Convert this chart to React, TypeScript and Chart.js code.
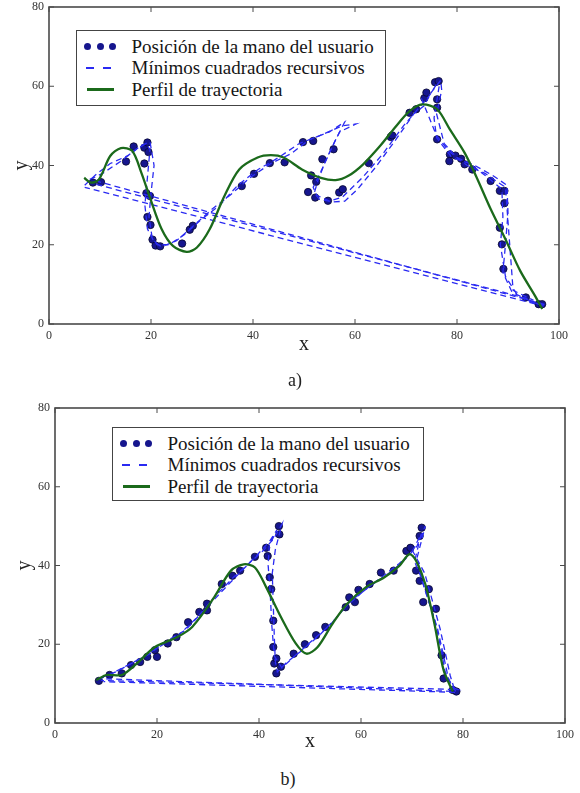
import React, { useEffect, useRef } from "react";
import { Chart, registerables } from "chart.js";
Chart.register(...registerables);

// ---------- shared labels ----------
const xTickStep = 20;
const xMin = 0;
const xMax = 100;
const yMin = 0;
const yMax = 80;
const legendLabels = [
  "Posición de la mano del usuario",
  "Mínimos cuadrados recursivos",
  "Perfil de trayectoria",
];
const panelLabels = ["a)", "b)"];
const axisTitles = ["x", "y"];

// ---------- panel a ----------
const aHandX = [8.6, 10.2, 15.1, 16.6, 18.7, 19.3, 19.5, 18.7, 19.1, 19.8, 19.3, 19.9, 20.3, 20.9, 21.8, 26.1, 27.6, 28.2, 37.8, 40.2, 43.3, 46.2, 49.8, 51.8, 55.8, 53.6, 52.4, 51.4, 50.8, 52.2, 54.7, 56.9, 57.6, 62.7, 67.0, 67.3, 70.7, 72.0, 73.6, 74.0, 75.7, 76.4, 76.1, 76.1, 76.1, 78.6, 78.5, 79.7, 80.8, 81.5, 83.0, 86.6, 88.4, 89.3, 89.3, 88.4, 88.8, 89.1, 93.5, 96.0, 96.7];
const aHandY = [35.7, 35.8, 41.0, 44.8, 44.5, 45.8, 43.4, 40.5, 33.0, 32.3, 27.0, 25.0, 21.3, 19.8, 19.6, 20.3, 23.8, 24.8, 34.8, 37.9, 40.6, 40.8, 45.9, 46.2, 44.1, 41.6, 35.9, 37.5, 33.3, 31.9, 31.1, 33.2, 34.0, 40.6, 47.2, 47.6, 53.3, 54.2, 57.0, 58.4, 61.0, 61.3, 56.7, 54.6, 46.6, 42.8, 41.1, 42.5, 41.7, 40.3, 39.0, 36.1, 33.6, 33.6, 30.5, 24.3, 20.1, 13.9, 6.7, 5.0, 5.0];

const aRls1X = [7.0, 9.0, 12.0, 15.5, 18.0, 19.8, 20.6, 20.0, 19.6, 20.2, 21.2, 23.5, 26.5, 30.0, 33.5, 37.0, 41.0, 45.0, 49.0, 53.0, 57.5, 60.2, 57.0, 54.5, 52.8, 52.0, 53.0, 55.5, 58.0, 60.5, 64.0, 68.0, 71.5, 73.5, 75.0, 76.8, 77.0, 76.0, 77.5, 80.0, 83.5, 87.0, 89.8, 90.0, 89.5, 89.0, 90.8, 94.0, 97.0, 7.0];
const aRls1Y = [35.0, 37.5, 40.5, 42.5, 45.0, 46.0, 40.0, 33.0, 27.0, 22.0, 20.0, 20.0, 22.5, 26.5, 30.0, 35.0, 39.0, 42.0, 45.5, 47.5, 50.0, 50.5, 48.5, 42.0, 36.5, 33.0, 31.5, 30.8, 31.0, 34.0, 39.5, 46.5, 53.0, 55.0, 58.5, 61.5, 59.0, 53.0, 45.5, 42.0, 40.0, 37.5, 35.0, 28.0, 20.0, 13.0, 8.0, 6.0, 4.5, 34.5];
const aRls2X = [8.0, 10.5, 14.0, 17.0, 19.0, 19.8, 19.3, 18.8, 19.3, 20.5, 22.0, 25.0, 28.5, 32.0, 35.5, 39.5, 43.5, 47.5, 51.0, 55.0, 58.0, 56.0, 53.5, 51.8, 52.5, 55.0, 57.5, 61.5, 65.5, 69.5, 72.5, 74.5, 76.0, 76.5, 75.5, 76.0, 79.0, 82.5, 86.0, 88.8, 89.0, 88.5, 89.5, 92.0, 95.5, 97.5, 9.5];
const aRls2Y = [36.5, 38.0, 41.0, 44.0, 45.5, 44.0, 37.0, 30.0, 24.0, 21.0, 19.5, 21.0, 25.0, 29.0, 32.5, 37.0, 40.5, 43.0, 46.5, 48.5, 51.0, 46.0, 39.0, 34.5, 32.5, 31.0, 32.0, 37.0, 43.0, 50.0, 54.5, 57.5, 60.5, 60.0, 52.0, 47.0, 42.0, 40.5, 37.0, 34.0, 27.0, 20.0, 12.0, 7.0, 5.0, 4.8, 36.0];
const aRls3X = [73.0, 76.0, 78.5, 82.0, 85.5, 89.5, 91.0, 95.0, 8.5];
const aRls3Y = [57.0, 47.5, 43.5, 40.0, 38.0, 34.5, 8.5, 6.0, 35.5];

const aProfX = [6.9, 8.2, 9.8, 12.0, 14.1, 16.3, 18.1, 19.9, 22.1, 24.3, 27.0, 29.0, 31.5, 34.4, 37.3, 40.9, 43.5, 46.0, 49.6, 53.3, 56.2, 58.7, 61.6, 64.9, 67.8, 70.7, 73.2, 76.1, 78.6, 81.5, 83.7, 86.6, 89.5, 92.4, 95.3, 96.7];
const aProfY = [36.9, 35.7, 36.5, 42.4, 44.4, 43.7, 38.2, 31.5, 23.9, 19.7, 18.2, 19.3, 23.9, 32.3, 39.0, 42.0, 42.6, 42.0, 39.0, 36.9, 36.3, 37.4, 40.3, 44.9, 49.5, 53.7, 55.4, 54.2, 49.1, 43.2, 37.4, 29.0, 21.4, 13.4, 7.1, 3.8];

// ---------- panel b ----------
const bHandX = [8.6, 10.7, 13.1, 14.9, 16.7, 18.1, 19.6, 20.0, 22.1, 23.8, 26.1, 28.3, 29.8, 29.8, 32.7, 34.8, 36.3, 39.2, 41.4, 43.9, 44.0, 41.7, 42.1, 42.4, 42.8, 42.8, 43.0, 43.4, 43.4, 44.3, 46.8, 49.0, 51.2, 53.0, 57.0, 57.7, 58.8, 59.5, 61.7, 63.9, 66.4, 68.9, 69.7, 71.5, 71.9, 70.8, 71.5, 73.3, 72.2, 74.7, 75.8, 76.2, 78.0, 78.7];
const bHandY = [10.7, 12.2, 12.6, 14.7, 15.5, 16.8, 18.5, 16.8, 20.2, 21.8, 25.6, 28.2, 30.3, 28.6, 35.3, 37.4, 38.7, 42.2, 44.5, 50.0, 47.9, 42.4, 37.0, 34.0, 26.0, 19.3, 15.1, 16.4, 12.6, 14.3, 17.6, 20.0, 22.3, 24.4, 29.4, 31.9, 30.7, 33.8, 35.3, 38.2, 38.7, 43.7, 44.5, 47.5, 49.6, 38.7, 36.1, 34.0, 30.7, 29.0, 17.2, 11.3, 8.4, 8.0];

const bRls1X = [8.5, 11.0, 14.0, 17.0, 20.0, 24.0, 28.0, 32.0, 35.0, 38.0, 41.0, 43.0, 44.5, 43.2, 42.6, 42.8, 43.0, 43.2, 43.6, 45.5, 48.5, 52.0, 55.0, 58.0, 62.0, 66.0, 69.0, 71.0, 72.6, 71.0, 72.0, 73.5, 75.0, 76.2, 77.2, 78.6, 8.5];
const bRls1Y = [11.0, 12.5, 14.5, 16.5, 19.0, 22.0, 27.0, 33.0, 37.0, 40.5, 44.0, 47.0, 50.5, 44.0, 38.0, 30.0, 22.0, 15.5, 13.0, 15.5, 18.5, 22.5, 26.5, 31.0, 35.0, 38.5, 42.0, 45.0, 50.0, 42.0, 36.0, 30.0, 24.0, 17.0, 11.0, 8.0, 11.3];
const bRls2X = [9.0, 12.0, 15.5, 18.5, 21.5, 25.5, 29.5, 33.5, 36.5, 39.5, 42.0, 43.5, 42.0, 41.8, 42.2, 42.5, 43.0, 44.5, 47.0, 50.5, 54.0, 57.0, 60.5, 64.0, 67.5, 70.0, 71.8, 70.5, 71.8, 73.0, 74.5, 75.5, 76.5, 78.0, 79.0, 9.0];
const bRls2Y = [11.5, 13.0, 15.5, 17.5, 20.5, 23.5, 29.0, 34.5, 38.5, 42.5, 46.0, 49.0, 45.0, 40.0, 33.0, 25.0, 17.0, 14.0, 17.0, 21.0, 25.0, 29.5, 33.5, 37.0, 40.5, 43.5, 48.0, 41.0, 37.0, 32.0, 26.0, 20.0, 13.0, 9.0, 8.5, 10.8];
const bRls3X = [70.0, 72.5, 74.0, 75.5, 77.5, 78.5, 9.5];
const bRls3Y = [44.0, 38.0, 31.0, 24.0, 12.0, 7.8, 10.5];

const bProfX = [8.1, 10.2, 13.1, 16.0, 19.6, 23.9, 26.9, 31.2, 34.5, 37.0, 39.2, 41.4, 44.3, 47.2, 49.3, 51.5, 54.4, 57.3, 61.0, 64.6, 67.5, 69.5, 70.8, 72.6, 74.4, 76.2, 78.0];
const bProfY = [10.9, 12.2, 12.2, 15.1, 19.3, 21.8, 24.4, 31.9, 38.7, 40.3, 39.5, 34.5, 26.9, 20.2, 17.6, 19.3, 25.2, 30.3, 34.5, 37.0, 39.9, 42.9, 41.2, 35.3, 25.2, 13.4, 8.0];

// ---------- styles ----------
const SERIF = "'Liberation Serif', 'Times New Roman', 'DejaVu Serif', serif";
const DOT_FILL = "#16168e";
const DOT_EDGE = "#07072e";
const DASH_COLOR = "#2a2af2";
const GREEN = "#1b6a1b";

const zip = (xs: number[], ys: number[]) => xs.map((x, i) => ({ x, y: ys[i] }));

function handSet(xs: number[], ys: number[]) {
  return {
    data: zip(xs, ys),
    showLine: false,
    pointRadius: 3.7,
    pointBackgroundColor: DOT_FILL,
    pointBorderColor: DOT_EDGE,
    pointBorderWidth: 0.8,
    order: 3,
  };
}
function dashSet(xs: number[], ys: number[]) {
  return {
    data: zip(xs, ys),
    showLine: true,
    borderColor: DASH_COLOR,
    borderWidth: 1.3,
    borderDash: [6, 4],
    pointRadius: 0,
    tension: 0,
    order: 2,
  };
}
function profSet(xs: number[], ys: number[]) {
  return {
    data: zip(xs, ys),
    showLine: true,
    borderColor: GREEN,
    borderWidth: 2.3,
    pointRadius: 0,
    tension: 0.3,
    order: 1,
  };
}

const framePlugin = {
  id: "frame",
  afterDatasetsDraw(chart: any) {
    const { ctx, chartArea: a, scales } = chart;
    ctx.save();
    ctx.strokeStyle = "#4a4a4a";
    ctx.lineWidth = 1;
    const seg = (x1: number, y1: number, x2: number, y2: number) => {
      ctx.beginPath();
      ctx.moveTo(x1, y1);
      ctx.lineTo(x2, y2);
      ctx.stroke();
    };
    for (let v = xMin; v <= xMax; v += xTickStep) {
      const px = scales.x.getPixelForValue(v);
      seg(px, a.bottom, px, a.bottom - 5);
      seg(px, a.top, px, a.top + 5);
    }
    for (let v = yMin; v <= yMax; v += xTickStep) {
      const py = scales.y.getPixelForValue(v);
      seg(a.left, py, a.left + 5, py);
      seg(a.right, py, a.right - 5, py);
    }
    ctx.lineWidth = 1.6;
    ctx.strokeRect(a.left, a.top, a.right - a.left, a.bottom - a.top);
    ctx.restore();
  },
};

type PanelProps = {
  top: number;
  height: number;
  padTop: number;
  padRight: number;
  yWidth: number;
  xHeight: number;
  yTitlePad: number;
  xTitlePad: number;
  datasets: any[];
};

function Panel(p: PanelProps) {
  const ref = useRef<HTMLCanvasElement>(null);
  useEffect(() => {
    const tickFont = { family: SERIF, size: 12 };
    const titleFont = { family: SERIF, size: 20 };
    const chart = new Chart(ref.current as HTMLCanvasElement, {
      type: "scatter",
      data: { datasets: p.datasets },
      options: {
        animation: false,
        responsive: false,
        devicePixelRatio: 1,
        layout: { padding: { top: p.padTop, right: p.padRight, left: 0, bottom: 0 } },
        plugins: { legend: { display: false }, tooltip: { enabled: false } },
        scales: {
          x: {
            type: "linear",
            min: xMin,
            max: xMax,
            ticks: { stepSize: xTickStep, padding: 5, font: tickFont, color: "#333", maxRotation: 0 },
            grid: { display: false, drawTicks: false },
            border: { display: false },
            title: { display: true, text: axisTitles[0], font: titleFont, color: "#222", padding: { top: 0, bottom: p.xTitlePad } },
            afterFit: (s: any) => {
              s.height = p.xHeight;
              s.paddingLeft = 0;
              s.paddingRight = 0;
            },
          },
          y: {
            type: "linear",
            min: yMin,
            max: yMax,
            ticks: { stepSize: xTickStep, padding: 5, font: tickFont, color: "#333" },
            grid: { display: false, drawTicks: false },
            border: { display: false },
            title: { display: true, text: axisTitles[1], font: titleFont, color: "#222", padding: { top: p.yTitlePad, bottom: 0 } },
            afterFit: (s: any) => {
              s.width = p.yWidth;
              s.paddingTop = 0;
              s.paddingBottom = 0;
            },
          },
        },
      } as any,
      plugins: [framePlugin],
    });
    return () => chart.destroy();
  }, []);
  return (
    <canvas
      ref={ref}
      width={580}
      height={p.height}
      style={{ position: "absolute", left: 0, top: p.top, width: 580, height: p.height }}
    />
  );
}

function Legend({ left, top, width, height }: { left: number; top: number; width: number; height: number }) {
  const rows = [17, 38.5, 60];
  const b = 1.5;
  return (
    <div
      style={{
        position: "absolute",
        left,
        top,
        width,
        height,
        boxSizing: "border-box",
        border: `${b}px solid #444`,
        background: "#fff",
        fontFamily: SERIF,
        fontSize: 19,
        color: "#151515",
      }}
    >
      {[12, 25, 37].map((cx, i) => (
        <div
          key={i}
          style={{
            position: "absolute",
            left: cx - 3.5 - b,
            top: rows[0] - 3.5 - b,
            width: 7,
            height: 7,
            borderRadius: "50%",
            background: DOT_FILL,
          }}
        />
      ))}
      {[10, 27].map((x, i) => (
        <div
          key={"d" + i}
          style={{ position: "absolute", left: x - b, top: rows[1] - 0.75 - b, width: 8, height: 1.5, background: DASH_COLOR }}
        />
      ))}
      <div style={{ position: "absolute", left: 11 - b, top: rows[2] - 1.25 - b, width: 27, height: 2.5, background: GREEN }} />
      {legendLabels.map((t, i) => (
        <div
          key={"t" + i}
          style={{ position: "absolute", left: 56 - b, top: rows[i] - 11 - b, lineHeight: "22px", whiteSpace: "nowrap" }}
        >
          {t}
        </div>
      ))}
    </div>
  );
}

function PanelLabel({ text, cx, cy }: { text: string; cx: number; cy: number }) {
  return (
    <div
      style={{
        position: "absolute",
        left: cx - 20,
        top: cy - 11,
        width: 40,
        textAlign: "center",
        lineHeight: "22px",
        fontFamily: SERIF,
        fontSize: 18,
        color: "#222",
      }}
    >
      {text}
    </div>
  );
}

export default function App() {
  const aSets = [
    profSet(aProfX, aProfY),
    dashSet(aRls1X, aRls1Y),
    dashSet(aRls2X, aRls2Y),
    dashSet(aRls3X, aRls3Y),
    handSet(aHandX, aHandY),
  ];
  const bSets = [
    profSet(bProfX, bProfY),
    dashSet(bRls1X, bRls1Y),
    dashSet(bRls2X, bRls2Y),
    dashSet(bRls3X, bRls3Y),
    handSet(bHandX, bHandY),
  ];
  return (
    <div style={{ position: "absolute", left: 0, top: 0, width: 580, height: 793, background: "#fff", overflow: "hidden" }}>
      <Panel top={0} height={360} padTop={7} padRight={21} yWidth={49} xHeight={36} yTitlePad={10} xTitlePad={3} datasets={aSets} />
      <Panel top={390} height={370} padTop={18} padRight={15} yWidth={55} xHeight={37} yTitlePad={13} xTitlePad={6} datasets={bSets} />
      <Legend left={76} top={30} width={310} height={76} />
      <Legend left={112} top={427} width={312} height={74} />
      <PanelLabel text={panelLabels[0]} cx={295} cy={380} />
      <PanelLabel text={panelLabels[1]} cx={288} cy={779} />
    </div>
  );
}
